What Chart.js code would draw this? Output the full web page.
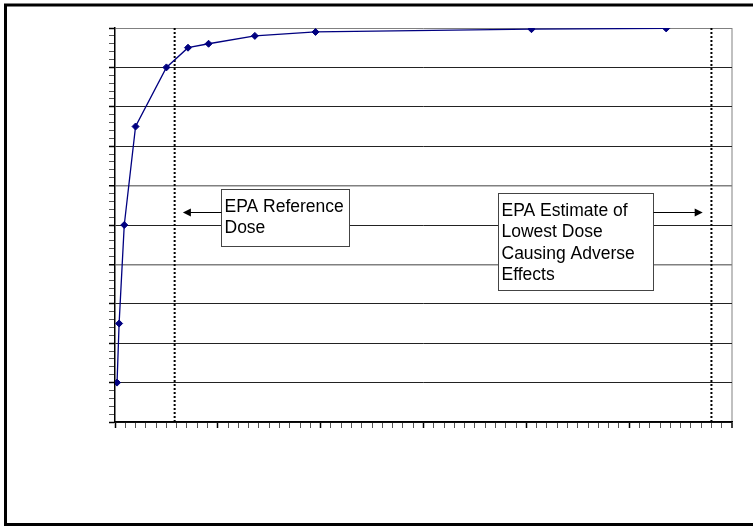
<!DOCTYPE html>
<html>
<head>
<meta charset="utf-8">
<script src="https://cdn.jsdelivr.net/npm/chart.js@4"></script>
<style>
  html, body { margin: 0; padding: 0; background: #fff; }
  #wrap { width: 753px; height: 527px; position: relative; }
</style>
</head>
<body>
<div id="wrap"><canvas id="canvas1" width="753" height="527"></canvas></div>
<script>
// dose / response points
var dosis = [2, 4, 9, 20, 50, 71, 91, 136, 195, 405, 536];
var respuesta = [10, 25, 50, 75, 90, 95, 96, 98, 99, 99.7, 99.9];
// dotted reference lines (EPA reference dose, lowest adverse effect dose)
var lineasRef = [58, 580];
var textoRef = ["EPA Reference", "Dose"];
var textoLoael = ["EPA Estimate of", "Lowest Dose", "Causing Adverse", "Effects"];

var puntos = [];
for (var i = 0; i < dosis.length; i++) {
    puntos.push({x: dosis[i], y: respuesta[i]});
}

var datasets = [{
    data: puntos,
    borderColor: "#000080",
    backgroundColor: "#000080",
    borderWidth: 1.3,
    pointStyle: "rectRot",
    pointRadius: 3.5,
    pointBorderWidth: 1,
    tension: 0
}];
for (var j = 0; j < lineasRef.length; j++) {
    datasets.push({
        data: [{x: lineasRef[j], y: 0}, {x: lineasRef[j], y: 100}],
        borderColor: "#000",
        borderWidth: 2,
        borderDash: [2, 2],
        pointRadius: 0
    });
}

// boxes with arrows, placed in data units
var cajas = [
    {x0: 103, x1: 227.5, y0: 59.2, y1: 44.6, lineas: textoRef, flechaY: 53.4, flechaHasta: 66},
    {x0: 372.7, x1: 523.4, y0: 58.1, y1: 33.55, lineas: textoLoael, flechaY: 53.4, flechaHasta: 571.5}
];

var marco = {
    id: "marco",
    beforeDraw: function(chart) {
        var ctx = chart.ctx;
        ctx.save();
        ctx.fillStyle = "#fff";
        ctx.fillRect(0, 0, chart.width, chart.height);
        ctx.strokeStyle = "#000";
        ctx.lineWidth = 3;
        ctx.beginPath();
        ctx.moveTo(760, 5);
        ctx.lineTo(5.5, 5);
        ctx.lineTo(5.5, 524.5);
        ctx.lineTo(760, 524.5);
        ctx.stroke();
        ctx.restore();
    }
};

var notas = {
    id: "notas",
    afterDatasetsDraw: function(chart) {
        var ctx = chart.ctx;
        var sx = chart.scales.x;
        var sy = chart.scales.y;
        ctx.save();
        for (var k = 0; k < cajas.length; k++) {
            var c = cajas[k];
            var l = Math.round(sx.getPixelForValue(c.x0)) + 0.5;
            var r = Math.round(sx.getPixelForValue(c.x1)) + 0.5;
            var t = Math.round(sy.getPixelForValue(c.y0)) + 0.5;
            var b = Math.round(sy.getPixelForValue(c.y1)) + 0.5;
            ctx.fillStyle = "#fff";
            ctx.fillRect(l, t, r - l, b - t);
            ctx.strokeStyle = "#444";
            ctx.lineWidth = 1;
            ctx.strokeRect(l, t, r - l, b - t);
            ctx.fillStyle = "#000";
            ctx.font = "17.5px 'Liberation Sans', Arial, sans-serif";
            ctx.textBaseline = "middle";
            ctx.textAlign = "left";
            for (var n = 0; n < c.lineas.length; n++) {
                ctx.fillText(c.lineas[n], l + 3, t + 17.5 + n * 21.5);
            }
            // arrow
            var ay = Math.round(sy.getPixelForValue(c.flechaY)) + 0.5;
            var tip = sx.getPixelForValue(c.flechaHasta);
            var desde = tip < l ? l : r;
            var dir = tip < desde ? -1 : 1;
            ctx.strokeStyle = "#000";
            ctx.beginPath();
            ctx.moveTo(desde, ay);
            ctx.lineTo(tip - dir * 7, ay);
            ctx.stroke();
            ctx.beginPath();
            ctx.moveTo(tip, ay);
            ctx.lineTo(tip - dir * 8, ay - 4);
            ctx.lineTo(tip - dir * 8, ay + 4);
            ctx.closePath();
            ctx.fill();
        }
        ctx.restore();
    }
};

new Chart(document.getElementById("canvas1"), {
    type: "line",
    data: { datasets: datasets },
    options: {
        animation: false,
        responsive: false,
        maintainAspectRatio: false,
        layout: { padding: { left: 0, top: 28, right: 21, bottom: 0 } },
        plugins: { legend: { display: false }, tooltip: { enabled: false } },
        scales: {
            x: {
                type: "linear",
                min: 0,
                max: 600,
                ticks: { display: false, stepSize: 10 },
                afterFit: function(scale) { scale.height = 105; },
                border: { display: true, color: "#000", width: 1.5 },
                grid: {
                    drawTicks: true,
                    tickLength: 6,
                    color: function(c) { return c.tick && c.tick.value === 600 ? "#c0c0c0" : "rgba(0,0,0,0)"; },
                    lineWidth: function(c) { return c.tick && c.tick.value === 600 ? 2 : 1; },
                    tickColor: function(c) { return c.tick && c.tick.value % 100 === 0 ? "#000" : "#555"; },
                    tickWidth: function(c) { return c.tick && c.tick.value % 100 === 0 ? 1.5 : 1; }
                }
            },
            y: {
                min: 0,
                max: 100,
                ticks: { display: false, stepSize: 2 },
                afterFit: function(scale) { scale.width = 115; },
                border: { display: true, color: "#000", width: 1.5 },
                grid: {
                    drawTicks: true,
                    tickLength: 6,
                    color: function(c) {
                        if (!c.tick) return "rgba(0,0,0,0)";
                        var v = c.tick.value;
                        if (v === 100 || v === 60 || v === 40) return "#808080";
                        return v % 10 === 0 ? "#222" : "rgba(0,0,0,0)";
                    },
                    lineWidth: function(c) { return c.tick && (c.tick.value === 60 || c.tick.value === 40) ? 1.5 : 1; },
                    tickColor: function(c) { return c.tick && c.tick.value % 10 === 0 ? "#000" : "#555"; },
                    tickWidth: function(c) { return c.tick && c.tick.value % 10 === 0 ? 1.5 : 1; }
                }
            }
        }
    },
    plugins: [marco, notas]
});
</script>
</body>
</html>
